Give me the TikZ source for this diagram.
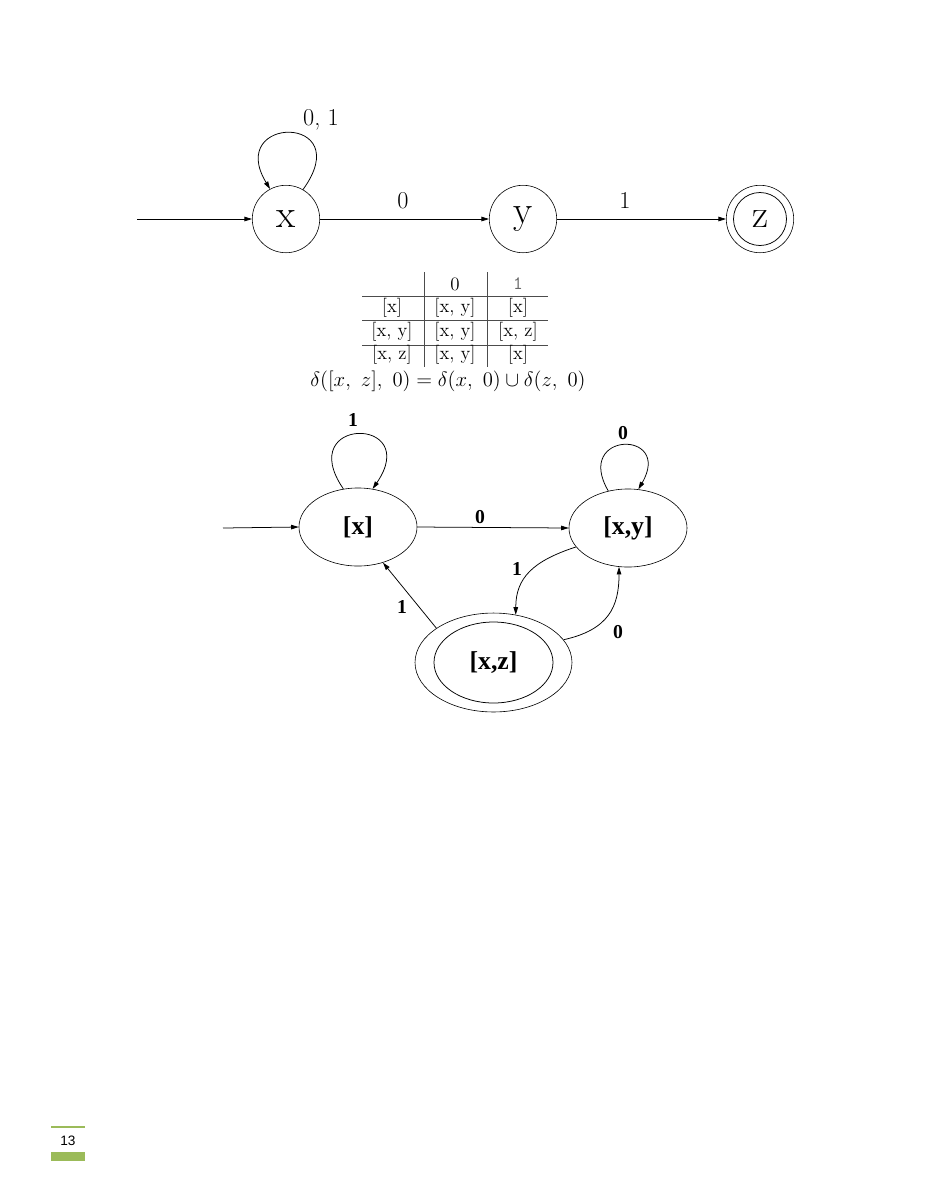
\documentclass[tikz,border=0pt]{standalone}
\usepackage{fontspec}
\usetikzlibrary{arrows.meta,shapes.geometric}
\newfontfamily\timesfont{Liberation Serif}
\newfontfamily\arialfont{Liberation Sans}
\definecolor{pagegreen}{RGB}{155,187,89}
\tikzset{
	state/.style={draw, circle, minimum size=44.5pt, inner sep=0pt, font=\fontsize{26}{30}\selectfont},
	toplabel/.style={font=\fontsize{16}{19}\selectfont},
	cell/.style={font=\fontsize{12.5}{15}\selectfont},
	setstate/.style={draw, ellipse, inner sep=0pt, minimum width=77.9pt, minimum height=51.5pt, font=\timesfont\bfseries\fontsize{17}{20}\selectfont},
	setlabel/.style={font=\timesfont\bfseries\fontsize{13}{15}\selectfont},
	trans/.style={-{Triangle[length=5pt,width=3pt]}, line width=0.5pt},
}

\begin{document}
\begin{tikzpicture}[x=0.66pt, y=0.66pt]
			%%%%% START %%%%%
			\useasboundingbox (0,0) rectangle (927,-1200);
			
			% NFA
			\node[state] (x) at (286,-219) {x};
			\node[state] (y) at (523,-219) {y};
			\node[state] (z) at (760,-219) {z};
			\draw[line width=0.5pt] (z) circle (26.5);
			\coordinate (start) at (137,-219);
			
			\draw[trans] (start) -- (x.west);
			\draw[trans] (x.east) -- (y.west);
			\draw[trans] (y.east) -- (z.west);
			\draw[trans] (x.60) .. controls +(55,76) and +(-45,74) .. (x.118);
			
			\node[toplabel] (lxx) at (321,-120) {0, 1};
			\node[toplabel] (lxy) at (403,-201) {0};
			\node[toplabel] (lyz) at (625,-200) {1};
			
			% table
			\draw[line width=0.5pt, color=black!70] (424,-272) -- (424,-367);
			\draw[line width=0.5pt, color=black!70] (487,-272) -- (487,-367);
			\draw[line width=0.5pt, color=black!70] (362,-296) -- (548,-296);
			\draw[line width=0.5pt, color=black!70] (362,-320) -- (548,-320);
			\draw[line width=0.5pt, color=black!70] (362,-345) -- (548,-345);
			
			\node[cell] (h0) at (455,-284) {0};
			\node[cell, color=black!60] (h1) at (518,-284) {\ttfamily 1};
			\node[cell] (r1a) at (392,-308) {[x]};
			\node[cell] (r1b) at (455,-308) {[x, y]};
			\node[cell] (r1c) at (518,-308) {[x]};
			\node[cell] (r2a) at (392,-332) {[x, y]};
			\node[cell] (r2b) at (455,-332) {[x, y]};
			\node[cell] (r2c) at (518,-332) {[x, z]};
			\node[cell] (r3a) at (392,-355) {[x, z]};
			\node[cell] (r3b) at (455,-355) {[x, y]};
			\node[cell] (r3c) at (518,-355) {[x]};
			\node[font=\fontsize{14}{17}\selectfont] (rule) at (448,-381)
				{\scalebox{0.95}{$\delta([x,\ z],\ 0) = \delta(x,\ 0) \cup \delta(z,\ 0)$}};
			
			% DFA
			\node[setstate] (X) at (358,-527) {[x]};
			\node[setstate] (XY) at (628,-528) {[x,y]};
			\node[setstate, minimum width=103.6pt, minimum height=65.3pt] (XZ) at (493.5,-662.5) {[x,z]};
			\draw[line width=0.5pt] (XZ.center) ellipse [x radius=59.5, y radius=40.5];
			\coordinate (init) at (223,-528);
			
			\draw[trans] (init) -- (X.west);
			\draw[trans] (X.111) .. controls +(-50,73) and +(50,73) .. (X.69);
			\draw[trans] (XY.118) .. controls +(-35,60) and +(35,60) .. (XY.75);
			\draw[trans] (X.east) -- (XY.west);
			\draw[trans] (XY.200) .. controls +(-43,-14) and +(0,37) .. (XZ.65);
			\draw[trans] (XZ.149.5) -- (X.305);
			\draw[trans] (XZ.18) .. controls +(45,10) and +(0,-40) .. (XY.257);
			
			\node[setlabel] (lX) at (353,-420) {1};
			\node[setlabel] (lXY) at (623,-433) {0};
			\node[setlabel] (lXtoXY) at (480,-517) {0};
			\node[setlabel] (lXYtoXZ) at (517,-569) {1};
			\node[setlabel] (lXZtoX) at (402,-607) {1};
			\node[setlabel] (lXZtoXY) at (618,-632) {0};
			
			% page number
			\draw[line width=1.3pt, color=pagegreen] (51,-1127) -- (85,-1127);
			\draw[fill=pagegreen, draw=none] (51,-1152) rectangle (85,-1161);
			\node[font=\arialfont\fontsize{9}{11}\selectfont] (page) at (68,-1141) {13};
			
			%%%%% END %%%%%
\end{tikzpicture}
\end{document}
